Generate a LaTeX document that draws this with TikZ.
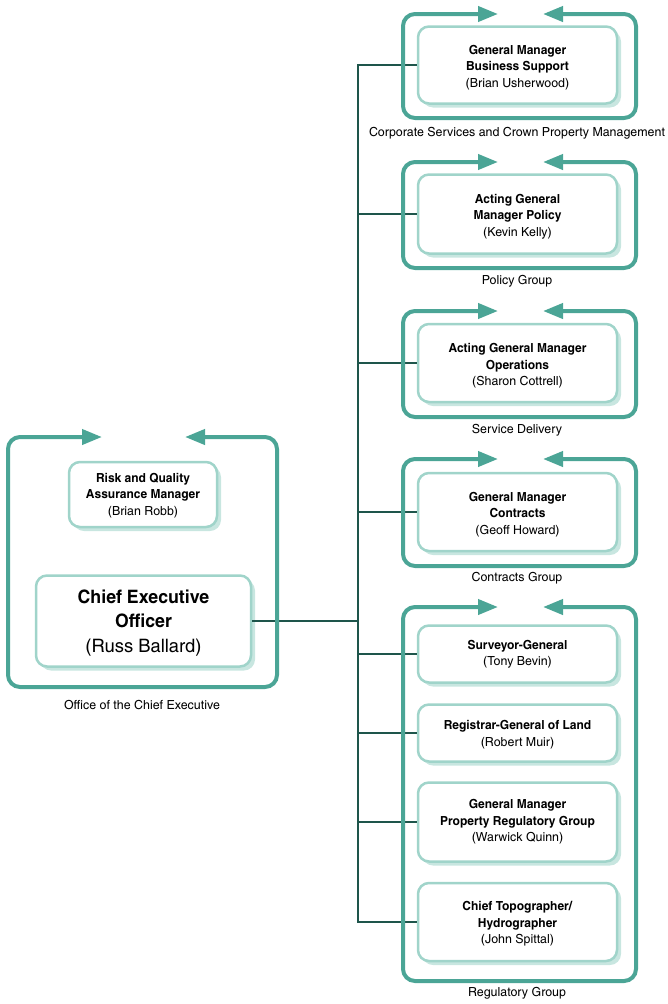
\documentclass[tikz,border=0pt]{standalone}
\usepackage{fontspec}
\setmainfont{texgyreheroscn}[Extension=.otf, UprightFont=*-regular, BoldFont=*-bold,
  UprightFeatures={FakeStretch=1.21}, BoldFeatures={FakeStretch=1.17}]
\usetikzlibrary{arrows.meta,shadows}
\definecolor{framec}{RGB}{75,165,150}
\definecolor{boxc}{RGB}{160,212,202}
\definecolor{shadc}{RGB}{200,230,224}
\definecolor{linec}{RGB}{30,85,75}
\newcommand\myup[1]{\rule{0pt}{#1}}
\tikzset{
  frame/.style={draw=framec, line width=4pt, rounded corners=12pt,
    {Triangle[length=20pt,width=15pt]}-{Triangle[length=20pt,width=15pt]}},
  box/.style={draw=boxc, line width=2.5pt, fill=white, rounded corners=11pt,
    align=center, inner sep=0pt, minimum width=199pt,
    font=\fontsize{12.5}{16.5}\selectfont,
    drop shadow={shadow xshift=4pt, shadow yshift=-4pt, fill=shadc, opacity=1}},
  lbl/.style={font=\fontsize{12.5}{15}\selectfont, inner sep=0pt},
  conn/.style={draw=linec, line width=1.5pt}
}
\begin{document}
\begin{tikzpicture}[x=1pt,y=-1pt]
\useasboundingbox (0,0) rectangle (667,1004);
% left boxes
\node[box, minimum width=148pt, minimum height=65pt] (risk) at (143,494.5)
  {\myup{11.5pt}\textbf{Risk and Quality}\\\textbf{Assurance Manager}\\(Brian Robb)};
\node[box, minimum width=215pt, minimum height=91pt, font=\fontsize{18.5}{24.5}\selectfont] (ceo) at (143.5,621)
  {\myup{17.5pt}\textbf{Chief Executive}\\\textbf{Officer}\\(Russ Ballard)};
% right boxes
\node[box, minimum height=77pt] (n1) at (517.5,65)
  {\myup{14.3pt}\textbf{General Manager}\\\textbf{Business Support}\\(Brian Usherwood)};
\node[box, minimum height=79pt] (n2) at (517.5,214)
  {\myup{13.8pt}\textbf{Acting General}\\\textbf{Manager Policy}\\(Kevin Kelly)};
\node[box, minimum height=78pt] (n3) at (517.5,363)
  {\myup{15.3pt}\textbf{Acting General Manager}\\\textbf{Operations}\\(Sharon Cottrell)};
\node[box, minimum height=78pt] (n4) at (517.5,512)
  {\myup{14.3pt}\textbf{General Manager}\\\textbf{Contracts}\\(Geoff Howard)};
\node[box, minimum height=57pt] (s1) at (517.5,654)
  {\textbf{Surveyor-General}\\(Tony Bevin)};
\node[box, minimum height=57pt] (s2) at (517.5,733)
  {\myup{12.3pt}\textbf{Registrar-General of Land}\\(Robert Muir)};
\node[box, minimum height=79pt] (s3) at (517.5,822)
  {\textbf{General Manager}\\\textbf{Property Regulatory Group}\\(Warwick Quinn)};
\node[box, minimum height=78pt] (s4) at (517.5,922)
  {\myup{13.3pt}\textbf{Chief Topographer/}\\\textbf{Hydrographer}\\(John Spittal)};
% connectors
\coordinate (trunk) at (358,0);
\draw[conn] (n1.west) -- (n1.west -| trunk) -- (s4.west -| trunk) -- (s4.west);
\foreach \n in {n2,n3,n4,s1,s2,s3} \draw[conn] (\n.west) -- (\n.west -| trunk);
\draw[conn] (ceo.east) -- (ceo.east -| trunk);
% frames
\draw[frame] (102,437) -- (8,437) -- (8,687) -- (277,687) -- (277,437) -- (185,437);
\draw[frame] (498,14) -- (403,14) -- (403,118) -- (636,118) -- (636,14) -- (543,14);
\draw[frame] (498,162) -- (403,162) -- (403,268) -- (636,268) -- (636,162) -- (543,162);
\draw[frame] (498,311) -- (403,311) -- (403,417) -- (636,417) -- (636,311) -- (543,311);
\draw[frame] (498,459) -- (403,459) -- (403,566) -- (636,566) -- (636,459) -- (543,459);
\draw[frame] (498,607) -- (403,607) -- (403,981) -- (636,981) -- (636,607) -- (543,607);
% labels
\node[lbl] (lg0) at (142,705) {Office of the Chief Executive};
\node[lbl] (lg1) at (517,133) {Corporate Services and Crown Property Management};
\node[lbl] (lg2) at (517,281) {Policy Group};
\node[lbl] (lg3) at (517,430) {Service Delivery};
\node[lbl] (lg4) at (517,578) {Contracts Group};
\node[lbl] (lg5) at (517,993) {Regulatory Group};
\end{tikzpicture}
\end{document}
